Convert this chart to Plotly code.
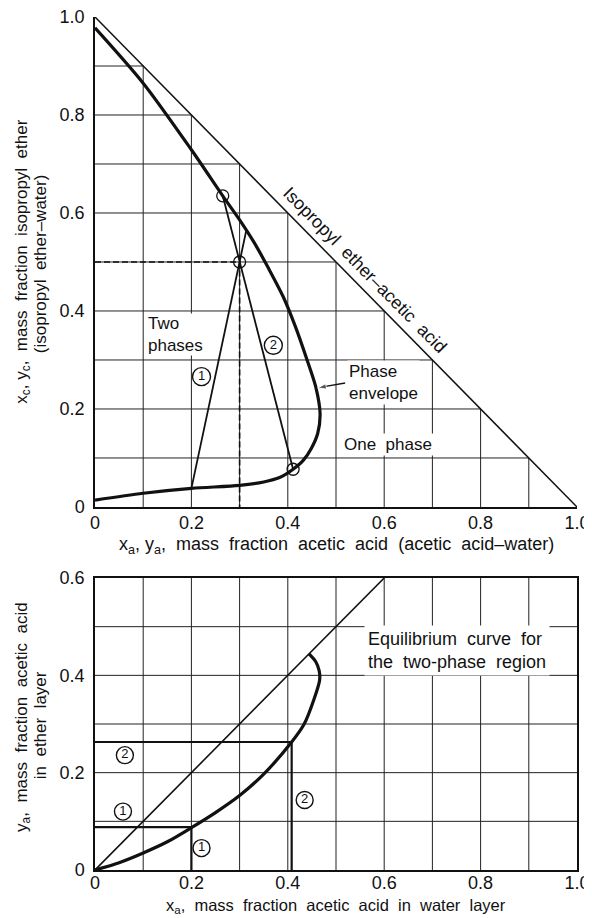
import plotly.graph_objects as go

# ---------------- data: upper diagram (right-triangle phase diagram) ----------------
env_x = [0.0, 0.1, 0.2, 0.265, 0.3, 0.33, 0.36, 0.39, 0.415, 0.44, 0.458, 0.467, 0.462, 0.449, 0.432, 0.411, 0.383, 0.35, 0.3, 0.2, 0.1, 0.0]
env_y = [0.978, 0.865, 0.729, 0.635, 0.586, 0.54, 0.487, 0.43, 0.37, 0.30, 0.245, 0.19, 0.15, 0.12, 0.095, 0.077, 0.06, 0.051, 0.044, 0.038, 0.028, 0.014]
tie1_x = [0.2, 0.314]
tie1_y = [0.038, 0.565]
tie2_x = [0.265, 0.411]
tie2_y = [0.635, 0.077]
mix_x = 0.3
mix_y = 0.5
pts_x = [0.265, 0.3, 0.411]
pts_y = [0.635, 0.5, 0.077]
diag_x = [0.0, 1.0]
diag_y = [1.0, 0.0]
arrow_x = [0.519, 0.462]
arrow_y = [0.253, 0.243]
grid_steps = [0.1, 0.2, 0.3, 0.4, 0.5, 0.6, 0.7, 0.8, 0.9]
top_tick_vals = [0, 0.2, 0.4, 0.6, 0.8, 1.0]
top_tick_text = ["0", "0.2", "0.4", "0.6", "0.8", "1.0"]
top_lbl_x = [0.221, 0.37]
top_lbl_y = [0.266, 0.33]
top_lbl_t = ["1", "2"]

# ---------------- data: lower diagram (equilibrium curve) ----------------
eq_x = [0.0, 0.05, 0.1, 0.15, 0.2, 0.25, 0.3, 0.35, 0.408, 0.434, 0.454, 0.466, 0.465, 0.458, 0.444]
eq_y = [0.0, 0.015, 0.035, 0.058, 0.087, 0.118, 0.153, 0.197, 0.263, 0.3, 0.35, 0.39, 0.41, 0.428, 0.444]
yx_x = [0.0, 0.6]
yx_y = [0.0, 0.6]
p1_x = 0.2
p1_y = 0.088
p2_x = 0.408
p2_y = 0.263
bot_grid_x = [0.1, 0.2, 0.3, 0.4, 0.5, 0.6, 0.7, 0.8, 0.9]
bot_grid_y = [0.1, 0.2, 0.3, 0.4, 0.5]
bot_x_vals = [0, 0.2, 0.4, 0.6, 0.8, 1.0]
bot_x_text = ["0", "0.2", "0.4", "0.6", "0.8", "1.0"]
bot_y_vals = [0, 0.2, 0.4, 0.6]
bot_y_text = ["0", "0.2", "0.4", "0.6"]
bot_lbl_x = [0.062, 0.058, 0.221, 0.435]
bot_lbl_y = [0.236, 0.12, 0.045, 0.144]
bot_lbl_t = ["2", "1", "1", "2"]

FONT = "Liberation Sans"
BLACK = "#111111"
GRID = "#222222"

fig = go.Figure()

# ---- upper diagram traces ----
fig.add_trace(go.Scatter(x=diag_x, y=diag_y, mode="lines", line=dict(color=BLACK, width=1.5),
                         xaxis="x", yaxis="y", hoverinfo="skip"))
fig.add_trace(go.Scatter(x=[0, mix_x, mix_x], y=[mix_y, mix_y, 0], mode="lines",
                         line=dict(color=BLACK, width=1.6, dash="6px,3px"), xaxis="x", yaxis="y"))
fig.add_trace(go.Scatter(x=tie1_x, y=tie1_y, mode="lines", line=dict(color=BLACK, width=1.8), xaxis="x", yaxis="y"))
fig.add_trace(go.Scatter(x=tie2_x, y=tie2_y, mode="lines", line=dict(color=BLACK, width=1.8), xaxis="x", yaxis="y"))
fig.add_trace(go.Scatter(x=env_x, y=env_y, mode="lines", line=dict(color=BLACK, width=3.2, shape="spline", smoothing=0.8),
                         xaxis="x", yaxis="y"))
fig.add_trace(go.Scatter(x=pts_x, y=pts_y, mode="markers",
                         marker=dict(symbol="circle-open", size=12, color=BLACK, line=dict(width=1.3, color=BLACK)),
                         xaxis="x", yaxis="y"))
fig.add_trace(go.Scatter(x=top_lbl_x, y=top_lbl_y, mode="markers+text", text=top_lbl_t,
                         textposition="middle center", textfont=dict(family=FONT, size=13, color=BLACK),
                         marker=dict(symbol="circle", size=18, color="white", line=dict(width=1.4, color=BLACK)),
                         xaxis="x", yaxis="y"))
fig.add_trace(go.Scatter(x=arrow_x, y=arrow_y, mode="lines+markers", line=dict(color=BLACK, width=1.3),
                         marker=dict(symbol="arrow", angleref="previous", size=[0, 9], color=BLACK),
                         xaxis="x", yaxis="y"))

# ---- lower diagram traces ----
fig.add_trace(go.Scatter(x=yx_x, y=yx_y, mode="lines", line=dict(color=BLACK, width=1.6), xaxis="x2", yaxis="y2"))
fig.add_trace(go.Scatter(x=[0, p1_x, p1_x], y=[p1_y, p1_y, 0], mode="lines", line=dict(color=BLACK, width=2.2),
                         xaxis="x2", yaxis="y2"))
fig.add_trace(go.Scatter(x=[0, p2_x, p2_x], y=[p2_y, p2_y, 0], mode="lines", line=dict(color=BLACK, width=2.2),
                         xaxis="x2", yaxis="y2"))
fig.add_trace(go.Scatter(x=eq_x, y=eq_y, mode="lines", line=dict(color=BLACK, width=3.2, shape="spline", smoothing=0.8),
                         xaxis="x2", yaxis="y2"))
fig.add_trace(go.Scatter(x=bot_lbl_x, y=bot_lbl_y, mode="markers+text", text=bot_lbl_t,
                         textposition="middle center", textfont=dict(family=FONT, size=13, color=BLACK),
                         marker=dict(symbol="circle", size=17, color="white", line=dict(width=1.4, color=BLACK)),
                         xaxis="x2", yaxis="y2"))

# ---- grids ----
shapes = []
for k in grid_steps:
    shapes.append(dict(type="line", xref="x", yref="y", x0=0, y0=k, x1=1 - k, y1=k,
                       line=dict(color=GRID, width=1), layer="below"))
    shapes.append(dict(type="line", xref="x", yref="y", x0=k, y0=0, x1=k, y1=1 - k,
                       line=dict(color=GRID, width=1), layer="below"))
for k in bot_grid_x:
    shapes.append(dict(type="line", xref="x2", yref="y2", x0=k, y0=0, x1=k, y1=0.6,
                       line=dict(color=GRID, width=1), layer="below"))
for k in bot_grid_y:
    shapes.append(dict(type="line", xref="x2", yref="y2", x0=0, y0=k, x1=1, y1=k,
                       line=dict(color=GRID, width=1), layer="below"))

top_dom = [0.4256, 1.0]
bot_dom = [0.0, 0.3423]
top_mid = (top_dom[0] + top_dom[1]) / 2
bot_mid = (bot_dom[0] + bot_dom[1]) / 2

TF = 17
annotations = [
    # y titles (two lines each)
    dict(text="x<sub>c</sub>, y<sub>c</sub>,  mass  fraction  isopropyl  ether",
         xref="paper", yref="paper", x=-0.150, y=top_mid, textangle=-90,
         xanchor="center", yanchor="middle", showarrow=False, font=dict(size=TF)),
    dict(text="(isopropyl  ether–water)",
         xref="paper", yref="paper", x=-0.113, y=top_mid - 0.002, textangle=-90,
         xanchor="center", yanchor="middle", showarrow=False, font=dict(size=TF)),
    dict(text="y<sub>a</sub>,  mass  fraction  acetic  acid",
         xref="paper", yref="paper", x=-0.150, y=bot_mid + 0.008, textangle=-90,
         xanchor="center", yanchor="middle", showarrow=False, font=dict(size=TF)),
    dict(text="in  ether  layer",
         xref="paper", yref="paper", x=-0.113, y=bot_mid - 0.002, textangle=-90,
         xanchor="center", yanchor="middle", showarrow=False, font=dict(size=TF)),
    # x titles
    dict(text="x<sub>a</sub>, y<sub>a</sub>,  mass  fraction  acetic  acid  (acetic  acid–water)",
         xref="paper", yref="paper", x=0.5, y=0.381, xanchor="center", yanchor="middle",
         showarrow=False, font=dict(size=18)),
    dict(text="x<sub>a</sub>,  mass  fraction  acetic  acid  in  water  layer",
         xref="paper", yref="paper", x=0.5, y=-0.0425, xanchor="center", yanchor="middle",
         showarrow=False, font=dict(size=16.5)),
    # upper diagram labels
    dict(text="Isopropyl  ether–acetic  acid", xref="x", yref="y", x=0.560, y=0.484, textangle=45.5,
         showarrow=False, font=dict(size=18)),
    dict(text="Two<br>phases", xref="x", yref="y", x=0.107, y=0.353, xanchor="left", yanchor="middle",
         align="left", showarrow=False, bgcolor="white", borderpad=0, font=dict(size=17)),
    dict(text="Phase<br>envelope", xref="x", yref="y", x=0.522, y=0.255, xanchor="left", yanchor="middle",
         align="left", showarrow=False, bgcolor="white", borderpad=1, font=dict(size=17)),
    dict(text="One  phase", xref="x", yref="y", x=0.512, y=0.127, xanchor="left", yanchor="middle",
         showarrow=False, bgcolor="white", borderpad=1, font=dict(size=17)),
    # lower diagram label
    dict(text="Equilibrium  curve  for<br>the  two-phase  region", xref="x2", yref="y2", x=0.751, y=0.452,
         xanchor="center", yanchor="middle", align="left", showarrow=False, bgcolor="white", borderpad=3,
         font=dict(size=18)),
]

axis_common = dict(showline=True, linecolor=BLACK, linewidth=1.5, ticks="", zeroline=False,
                   tickfont=dict(size=18, color=BLACK), fixedrange=True, automargin=False, showgrid=False,
                   ticklabeloverflow="allow")

# the page body adds an 8 px margin, so the figure is 8 px smaller than the window
fig.update_layout(
    width=584, height=910,
    margin=dict(l=87, r=15, t=9, b=48, autoexpand=False),
    paper_bgcolor="white", plot_bgcolor="white",
    showlegend=False,
    font=dict(family=FONT, color=BLACK),
    xaxis=dict(domain=[0, 1], anchor="y", range=[0, 1], tickvals=top_tick_vals, ticktext=top_tick_text,
               ticklabelstandoff=-1, **axis_common),
    yaxis=dict(domain=top_dom, anchor="x", range=[0, 1], tickvals=top_tick_vals, ticktext=top_tick_text,
               ticklabelstandoff=5, **axis_common),
    xaxis2=dict(domain=[0, 1], anchor="y2", range=[0, 1], tickvals=bot_x_vals, ticktext=bot_x_text,
                mirror=True, ticklabelstandoff=-4, **axis_common),
    yaxis2=dict(domain=bot_dom, anchor="x2", range=[0, 0.6], tickvals=bot_y_vals, ticktext=bot_y_text,
                mirror=True, ticklabelstandoff=5, **axis_common),
    shapes=shapes,
    annotations=annotations,
)

fig.write_html("out.html")
